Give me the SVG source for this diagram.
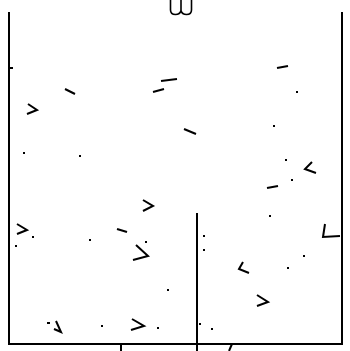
<svg xmlns="http://www.w3.org/2000/svg" width="350" height="351" viewBox="0 0 350 351">
<style>
.s{fill:none;stroke:#000;stroke-width:2;stroke-linecap:butt;stroke-linejoin:miter}
.t{fill:none;stroke:#000;stroke-width:1.6}
.d{fill:#000}
</style>
<rect width="350" height="351" fill="#fff"/>
<g id="frame">
<path class="s" d="M9,12V344H342V12"/>
<path class="s" d="M9,68H13"/>
<path class="s" d="M197,213V351"/>
<path class="s" d="M121,344V351"/>
<path class="s" d="M229,351L232,344"/>
</g>
<g id="top-mark">
<path class="t" d="M170.5,0V10Q170.5,14.5 175.5,14.5Q180,14.5 181,10.5Q182,14.5 186.5,14.5Q191.5,14.5 191.5,10V0M181,10.5V0"/>
</g>
<g id="strokes">
<path class="s" d="M65,89L75,94"/>
<path class="s" d="M28,104L37,110L27,114"/>
<path class="s" d="M161,81L177,79"/>
<path class="s" d="M153,92L164,89"/>
<path class="s" d="M277,68L288,66"/>
<path class="s" d="M184,129L196,134"/>
<path class="s" d="M143,200L153,206L143,211"/>
<path class="s" d="M17,224L27,230L17,234"/>
<path class="s" d="M117,229L127,232"/>
<path class="s" d="M312,162L305,169L316,173"/>
<path class="s" d="M267,188L278,186"/>
<path class="s" d="M325,224L323,237L340,236"/>
<path class="s" d="M136,245L148,256L133,260"/>
<path class="s" d="M243,262L239,269L249,273"/>
<path class="s" d="M257,295L268,302L257,306"/>
<path class="s" d="M47,323H50M56,321L61,332L54,329"/>
<path class="s" d="M132,319L144,326L131,330"/>
</g>
<g id="dots" class="d">
<rect x="296" y="91" width="2" height="2"/>
<rect x="23" y="152" width="2" height="2"/>
<rect x="79" y="155" width="2" height="2"/>
<rect x="273" y="125" width="2" height="2"/>
<rect x="285" y="159" width="2" height="2"/>
<rect x="291" y="179" width="2" height="2"/>
<rect x="269" y="215" width="2" height="2"/>
<rect x="32" y="236" width="2" height="2"/>
<rect x="15" y="245" width="2" height="2"/>
<rect x="89" y="239" width="2" height="2"/>
<rect x="145" y="241" width="2" height="2"/>
<rect x="203" y="235" width="2" height="2"/>
<rect x="203" y="249" width="2" height="2"/>
<rect x="303" y="255" width="2" height="2"/>
<rect x="287" y="267" width="2" height="2"/>
<rect x="167" y="289" width="2" height="2"/>
<rect x="101" y="325" width="2" height="2"/>
<rect x="157" y="327" width="2" height="2"/>
<rect x="199" y="323" width="2" height="2"/>
<rect x="211" y="328" width="2" height="2"/>
</g>
</svg>
